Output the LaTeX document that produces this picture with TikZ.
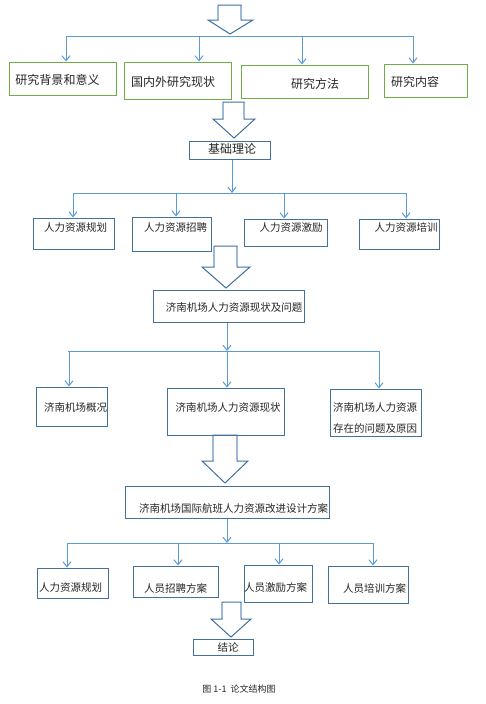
\documentclass[tikz,border=0pt]{standalone}
\usepackage{fontspec}
\newfontfamily\cjk{Noto Sans CJK SC}
\usetikzlibrary{arrows.meta,fit}
\definecolor{lineblue}{HTML}{5B9BD5}
\definecolor{boxblue}{HTML}{41719C}
\definecolor{boxgreen}{HTML}{70AD47}
\definecolor{shaftblue}{HTML}{9DB9D9}
\tikzset{
 gbox/.style={draw=boxgreen, line width=1pt, rectangle, inner sep=0pt},
 bbox/.style={draw=boxblue, line width=1pt, rectangle, inner sep=0pt},
 bigtxt/.style={font=\cjk\fontsize{12}{14}\selectfont, inner sep=0pt, text=black!85},
 txt/.style={font=\cjk\fontsize{10.5}{12}\selectfont, inner sep=0pt, text=black!85},
 captxt/.style={font=\cjk\fontsize{9}{10}\selectfont, inner sep=0pt, text=black!85},
 dist/.style={draw=lineblue, line width=1pt},
 darr/.style={draw=lineblue, line width=1pt, -{Straight Barb[length=5pt,width=8pt]}},
 barrowline/.style={draw=boxblue, line width=1pt, line join=miter},
 shaftline/.style={draw=shaftblue, line width=1.4pt},
}
\newcommand\blockarr[8]{%
 \draw[barrowline] (#1,#3) -- (#2,#3) -- (#2,#4) -- (#6,#4) -- (#7,#8) -- (#5,#4) -- (#1,#4) -- cycle;
 \draw[shaftline] (#1,#3+1) -- (#1,#4-1) (#2,#3+1) -- (#2,#4-1);
}
\begin{document}
\begin{tikzpicture}[x=1pt,y=-1pt]
\fill[white] (0,0) rectangle (486,704);
\useasboundingbox (0,0) rectangle (486,704);

% ---------- row 1 ----------
\blockarr{218}{241}{5}{20}{208}{253}{230}{34}
\coordinate (l1w) at (66,36);
\coordinate (l1e) at (413,36);
\draw[dist] (l1w) -- (l1e);
\node[gbox, fit={(9,62)(116,95)}] (b1) {};
\node[gbox, fit={(124,62)(231,99)}] (b2) {};
\node[gbox, fit={(241,65)(368,98)}] (b3) {};
\node[gbox, fit={(384,64)(467,97)}] (b4) {};
\node[bigtxt] (b1t) at (57.5,80) {研究背景和意义};
\node[bigtxt] (b2t) at (173,82) {国内外研究现状};
\node[bigtxt] (b3t) at (315,84) {研究方法};
\node[bigtxt] (b4t) at (415,82) {研究内容};
\coordinate (a11) at (66,36);
\coordinate (a12) at (199,36);
\coordinate (a13) at (302,36);
\coordinate (a14) at (413,36);
\draw[darr] (a11) -- (a11 |- b1.north);
\draw[darr] (a12) -- (a12 |- b2.north);
\draw[darr] (a13) -- (a13 |- b3.north);
\draw[darr] (a14) -- (a14 |- b4.north);

% ---------- basic theory ----------
\blockarr{223}{244}{102}{119}{213}{255}{234}{138}
\node[bbox, fit={(189,141)(270,159)}] (k) {};
\node[bigtxt] (kt) at (232,149) {基础理论};
\coordinate (l2w) at (73,193);
\coordinate (l2e) at (407,193);
\coordinate (l2m) at (232,193);
\draw[darr] (l2m |- k.south) -- (l2m);
\draw[dist] (l2w) -- (l2e);
\node[bbox, fit={(33,218)(114,249)}] (c1) {};
\node[bbox, fit={(132,217)(211,251)}] (c2) {};
\node[bbox, fit={(244,219)(327,246)}] (c3) {};
\node[bbox, fit={(359,219)(439,249)}] (c4) {};
\node[txt] (c1t) at (75.5,228) {人力资源规划};
\node[txt] (c2t) at (175.5,228) {人力资源招聘};
\node[txt] (c3t) at (291,228) {人力资源激励};
\node[txt] (c4t) at (406,228) {人力资源培训};
\coordinate (a21) at (73,193);
\coordinate (a22) at (176,193);
\coordinate (a23) at (284,193);
\coordinate (a24) at (406,193);
\draw[darr] (a21) -- (a21 |- c1.north);
\draw[darr] (a22) -- (a22 |- c2.north);
\draw[darr] (a23) -- (a23 |- c3.north);
\draw[darr] (a24) -- (a24 |- c4.north);

% ---------- status and problems ----------
\blockarr{214}{237}{246}{267}{202}{250}{226}{288}
\node[bbox, fit={(153,290)(304,322)}] (d) {};
\node[txt] (dt) at (234,308) {济南机场人力资源现状及问题};
\coordinate (l3w) at (68,351);
\coordinate (l3e) at (379,351);
\coordinate (l3m) at (227,351);
\draw[darr] (l3m |- d.south) -- (l3m);
\draw[dist] (l3w) -- (l3e);
\node[bbox, fit={(36,387)(107,426)}] (e1) {};
\node[bbox, fit={(167,388)(284,435)}] (e2) {};
\node[bbox, fit={(330,389)(421,436)}] (e3) {};
\node[txt] (e1t) at (75.5,408) {济南机场概况};
\node[txt] (e2t) at (228,408) {济南机场人力资源现状};
\node[txt] (e3t1) at (375,408) {济南机场人力资源};
\node[txt] (e3t2) at (375,428) {存在的问题及原因};
\coordinate (a31) at (69,351);
\coordinate (a32) at (227,351);
\coordinate (a33) at (379,351);
\draw[darr] (a31) -- (a31 |- e1.north);
\draw[darr] (a32) -- (a32 |- e2.north);
\draw[darr] (a33) -- (a33 |- e3.north);

% ---------- improvement plan ----------
\blockarr{213}{237}{435}{461}{202}{248}{225}{483}
\node[bbox, fit={(125,486)(329,518)}] (f) {};
\node[txt] (ft) at (233.5,508) {济南机场国际航班人力资源改进设计方案};
\coordinate (l4w) at (67,543);
\coordinate (l4e) at (373,543);
\coordinate (l4m) at (227,543);
\draw[darr] (l4m |- f.south) -- (l4m);
\draw[dist] (l4w) -- (l4e);
\node[bbox, fit={(37,568)(108,598)}] (g1) {};
\node[bbox, fit={(133,566)(218,597)}] (g2) {};
\node[bbox, fit={(244,565)(312,602)}] (g3) {};
\node[bbox, fit={(328,566)(408,603)}] (g4) {};
\node[txt] (g1t) at (70.5,588) {人力资源规划};
\node[txt] (g2t) at (175.5,588) {人员招聘方案};
\node[txt] (g3t) at (275.5,588) {人员激励方案};
\node[txt] (g4t) at (374.5,588) {人员培训方案};
\coordinate (a41) at (67,543);
\coordinate (a42) at (178,543);
\coordinate (a43) at (279,543);
\coordinate (a44) at (373,543);
\draw[darr] (a41) -- (a41 |- g1.north);
\draw[darr] (a42) -- (a42 |- g2.north);
\draw[darr] (a43) -- (a43 |- g3.north);
\draw[darr] (a44) -- (a44 |- g4.north);

% ---------- conclusion ----------
\blockarr{222}{241}{602}{619}{211}{251}{231}{637}
\node[bbox, fit={(193,639)(253,655)}] (h) {};
\node[txt] (ht) at (228,647) {结论};

\node[captxt] (cap) at (239,689) {图 1-1\ \ 论文结构图};
\end{tikzpicture}
\end{document}
